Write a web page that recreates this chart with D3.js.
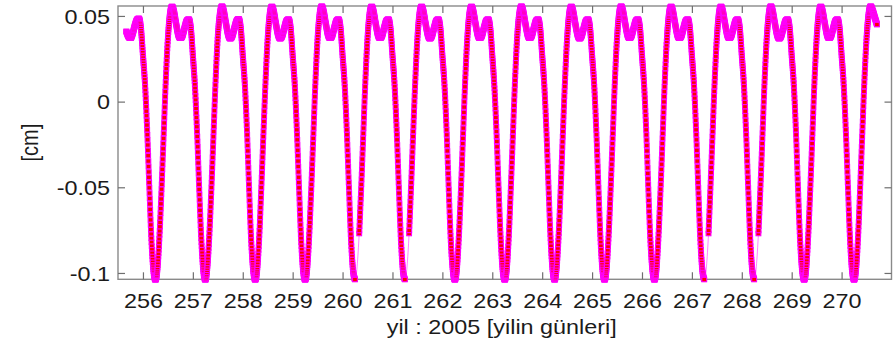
<!DOCTYPE html>
<html>
<head>
<meta charset="utf-8">
<script src="https://cdn.jsdelivr.net/npm/d3@7"></script>
<style>
  html, body { margin: 0; padding: 0; background: #fff; }
  svg { display: block; }
</style>
</head>
<body>
<svg id="chart" width="893" height="346"></svg>
<script>
// ---- tick labels / texts ----
const xTicks = [256, 257, 258, 259, 260, 261, 262, 263, 264, 265, 266, 267, 268, 269, 270];
const yTicks = [-0.1, -0.05, 0, 0.05];
const yTickLabels = ["-0.1", "-0.05", "0", "0.05"];
const xLabel = "yil : 2005 [yilin günleri]";
const yLabel = "[cm]";

// ---- hourly readings (cm), one array per day; null = no sample ----
const d255 = [0.041, 0.038, 0.037, 0.0395, 0.044, 0.0475, 0.0485, 0.043];
const d256 = [0.027, 0.010, -0.016, -0.048, -0.079, -0.098, -0.104, -0.097, -0.077, -0.049, -0.018, 0.013, 0.037, 0.051, 0.0555, 0.052, 0.045, 0.039, 0.037, 0.0385, 0.043, 0.047, 0.048, 0.043];
const d257 = [0.027, 0.009, -0.017, -0.049, -0.079, -0.098, -0.104, -0.096, -0.076, -0.048, -0.017, 0.014, 0.038, 0.051, 0.0556, 0.052, 0.045, 0.039, 0.0368, 0.0385, 0.043, 0.047, 0.0482, 0.043];
const d258 = [0.027, 0.010, -0.016, -0.049, -0.080, -0.098, -0.104, -0.097, -0.077, -0.048, -0.017, 0.013, 0.037, 0.051, 0.0555, 0.052, 0.045, 0.039, 0.0368, 0.0385, 0.043, 0.047, 0.048, 0.043];
const d259 = [0.027, 0.010, -0.016, -0.048, -0.079, -0.098, -0.104, -0.097, -0.077, -0.049, -0.018, 0.013, 0.037, 0.051, 0.0556, 0.052, 0.045, 0.039, 0.037, 0.0385, 0.043, 0.047, 0.048, 0.043];
const d260 = [0.027, 0.010, -0.016, -0.048, -0.079, -0.098, -0.104, null, -0.077, -0.049, -0.018, 0.013, 0.037, 0.051, 0.0555, 0.052, 0.045, 0.039, 0.037, 0.0385, 0.043, 0.047, 0.048, 0.043];
const d261 = [0.027, 0.010, -0.016, -0.048, -0.079, -0.098, -0.104, null, -0.077, -0.048, -0.017, 0.013, 0.037, 0.051, 0.0555, 0.052, 0.045, 0.039, 0.0368, 0.0385, 0.043, 0.047, 0.048, 0.043];
const d262 = [0.027, 0.010, -0.016, -0.049, -0.080, -0.098, -0.104, -0.097, -0.077, -0.049, -0.018, 0.013, 0.037, 0.051, 0.0555, 0.052, 0.045, 0.039, 0.037, 0.0385, 0.043, 0.047, 0.048, 0.043];
const d263 = [0.027, 0.009, -0.017, -0.049, -0.079, -0.098, -0.104, -0.097, -0.077, -0.048, -0.017, 0.014, 0.038, 0.051, 0.0556, 0.052, 0.045, 0.039, 0.037, 0.0385, 0.043, 0.047, 0.048, 0.043];
const d264 = [0.027, 0.010, -0.016, -0.048, -0.079, -0.098, -0.104, -0.096, -0.076, -0.048, -0.017, 0.013, 0.037, 0.051, 0.0555, 0.052, 0.045, 0.039, 0.0368, 0.0385, 0.043, 0.047, 0.048, 0.043];
const d265 = [0.027, 0.010, -0.016, -0.048, -0.079, -0.098, -0.104, -0.097, -0.077, -0.049, -0.018, 0.013, 0.037, 0.051, 0.0556, 0.052, 0.045, 0.039, 0.037, 0.0385, 0.043, 0.047, 0.048, 0.043];
const d266 = [0.027, 0.010, -0.016, -0.049, -0.080, -0.098, -0.104, -0.097, -0.077, -0.049, -0.018, 0.013, 0.037, 0.051, 0.0555, 0.052, 0.045, 0.039, 0.037, 0.0385, 0.043, 0.047, 0.048, 0.043];
const d267 = [0.027, 0.010, -0.016, -0.048, -0.079, -0.098, -0.104, null, -0.077, -0.048, -0.017, 0.013, 0.037, 0.051, 0.0555, 0.052, 0.045, 0.039, 0.037, 0.0385, 0.043, 0.047, 0.048, 0.043];
const d268 = [0.027, 0.010, -0.016, -0.048, -0.079, -0.098, -0.104, null, -0.077, -0.049, -0.018, 0.013, 0.037, 0.051, 0.0556, 0.052, 0.045, 0.039, 0.0368, 0.0385, 0.043, 0.047, 0.048, 0.043];
const d269 = [0.027, 0.010, -0.016, -0.049, -0.080, -0.098, -0.104, -0.097, -0.077, -0.049, -0.018, 0.013, 0.037, 0.051, 0.0555, 0.052, 0.045, 0.039, 0.037, 0.0385, 0.043, 0.047, 0.048, 0.043];
const d270 = [0.027, 0.010, -0.016, -0.048, -0.079, -0.098, -0.104, -0.097, -0.077, -0.048, -0.017, 0.013, 0.037, 0.051, 0.0556, 0.053, 0.049, 0.045];

// [day, first hour of the day's array, readings]
const dayTable = [
  [255, 16, d255], [256, 0, d256], [257, 0, d257], [258, 0, d258], [259, 0, d259],
  [260, 0, d260], [261, 0, d261], [262, 0, d262], [263, 0, d263], [264, 0, d264],
  [265, 0, d265], [266, 0, d266], [267, 0, d267], [268, 0, d268], [269, 0, d269],
  [270, 0, d270]
];

const points = [];
dayTable.forEach(([day, h0, vals]) => {
  vals.forEach((v, i) => points.push({ t: day + (h0 + i) / 24, v }));
});

// ---- layout ----
const W = 893, H = 346;
const L = 118, R = 891.5, T = 6, B = 279.3;
const FONT = "'Liberation Sans', Arial, Helvetica, sans-serif";
const FS = 20;
const SX = 1.17; // horizontal stretch of the reference's text

const svg = d3.select("#chart");
svg.append("rect").attr("width", W).attr("height", H).attr("fill", "#fff");

const x = d3.scaleLinear().domain([255.5, 271.0]).range([L, R]);
const y = d3.scaleLinear().domain([-0.1037, 0.0558]).range([B, T]);

const axisColor = "#8a8a8a";

// box
svg.append("rect")
  .attr("x", L).attr("y", T).attr("width", R - L).attr("height", B - T)
  .attr("fill", "none").attr("stroke", axisColor).attr("stroke-width", 1.4);

function styleAxis(g) {
  g.select(".domain").remove();
  g.selectAll(".tick line").attr("stroke", "#6f6f6f").attr("stroke-width", 1.2);
  g.selectAll("text").attr("font-family", FONT).attr("font-size", FS).attr("fill", "#1b1b1b");
}

// bottom axis (inward ticks)
const gB = svg.append("g").attr("transform", `translate(0,${B})`)
  .call(d3.axisBottom(x).tickValues(xTicks).tickFormat(d3.format("d")).tickSizeInner(-7).tickSizeOuter(0).tickPadding(0));
styleAxis(gB);
gB.selectAll(".tick text").attr("y", 28.3).attr("dy", null).attr("transform", `scale(${SX},1)`);

// top axis (ticks only)
const gT = svg.append("g").attr("transform", `translate(0,${T})`)
  .call(d3.axisTop(x).tickValues(xTicks).tickFormat("").tickSizeInner(-7).tickSizeOuter(0));
styleAxis(gT);

// left axis
const gL = svg.append("g").attr("transform", `translate(${L},0)`)
  .call(d3.axisLeft(y).tickValues(yTicks).tickFormat(d => yTickLabels[yTicks.indexOf(d)]).tickSizeInner(-7).tickSizeOuter(0).tickPadding(0));
styleAxis(gL);
gL.selectAll(".tick text").attr("x", -8 / SX).attr("dy", null).attr("y", 7.2).attr("transform", `scale(${SX},1)`);

// right axis (ticks only)
const gR = svg.append("g").attr("transform", `translate(${R},0)`)
  .call(d3.axisRight(y).tickValues(yTicks).tickFormat("").tickSizeInner(-7).tickSizeOuter(0));
styleAxis(gR);

// axis titles
svg.append("text")
  .attr("transform", `translate(${(L + R) / 2 - 3},334) scale(${SX},1)`)
  .attr("text-anchor", "middle")
  .attr("font-family", FONT).attr("font-size", FS).attr("fill", "#1b1b1b")
  .text(xLabel);

svg.append("text")
  .attr("transform", `translate(38,${(T + B) / 2}) scale(${SX},1) rotate(-90)`)
  .attr("text-anchor", "middle")
  .attr("font-family", FONT).attr("font-size", FS).attr("fill", "#1b1b1b")
  .text(yLabel);

// ---- data ----
const valid = points.filter(p => p.v !== null);

// thin connecting line (visible where samples are missing)
svg.append("path")
  .attr("d", d3.line().x(p => x(p.t)).y(p => y(p.v)).curve(d3.curveMonotoneX)(valid))
  .attr("fill", "none").attr("stroke", "#ff00ff").attr("stroke-width", 0.9).attr("stroke-opacity", 0.55);

// square markers (magenta edge, red face) drawn one after another along the curve
const markerStepDays = 0.004;
const stepPx = x(255.5 + markerStepDays) - x(255.5);
const marks = [];
let cur = null;
function gridFrom(x0) { return L + Math.ceil((x0 - L) / stepPx) * stepPx; }
const recorder = {
  moveTo(px, py) { cur = [px, py]; marks.push([px, py]); },
  lineTo(px, py) {
    const [x0, y0] = cur;
    for (let g = gridFrom(x0); g < px; g += stepPx) {
      const t = (g - x0) / (px - x0);
      marks.push([g, y0 + (py - y0) * t]);
    }
    cur = [px, py]; marks.push([px, py]);
  },
  bezierCurveTo(x1, y1, x2, y2, px, py) {
    const [x0, y0] = cur;
    for (let g = gridFrom(x0); g < px; g += stepPx) {
      const t = (g - x0) / (px - x0), m = 1 - t;
      marks.push([g, m * m * m * y0 + 3 * m * m * t * y1 + 3 * m * t * t * y2 + t * t * t * py]);
    }
    cur = [px, py];
  },
  closePath() {}
};
d3.line().x(p => x(p.t)).y(p => y(p.v)).defined(p => p.v !== null)
  .curve(d3.curveMonotoneX).context(recorder)(points);
if (cur) marks.push(cur);

const mw = 4.8, mh = 4.4;
svg.append("g")
  .attr("fill", "#ff0000")
  .attr("stroke", "#ff00ff")
  .attr("stroke-width", 1.1)
  .selectAll("rect")
  .data(marks)
  .join("rect")
  .attr("x", d => (d[0] - mw / 2).toFixed(2))
  .attr("y", d => (d[1] - mh / 2).toFixed(2))
  .attr("width", mw)
  .attr("height", mh);
</script>
</body>
</html>
